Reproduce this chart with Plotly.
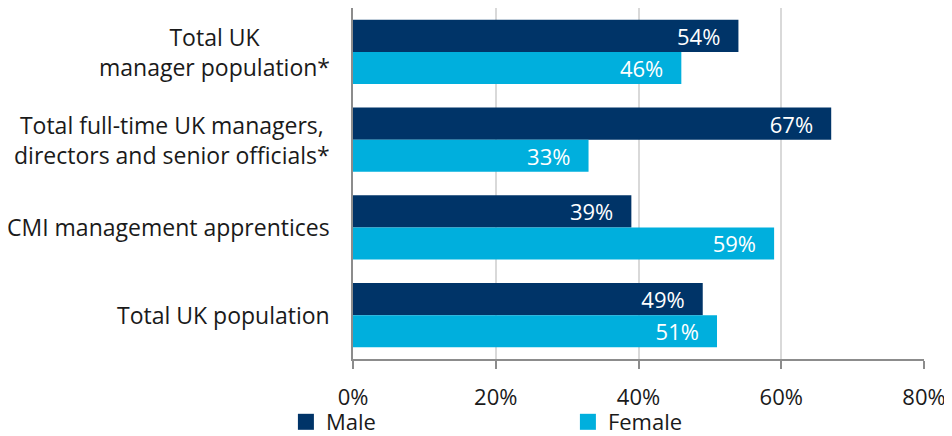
import plotly.graph_objects as go

categories = ["Total UK<br>manager population*",
              "Total full-time UK managers,<br>directors and senior officials*",
              "CMI management apprentices",
              "Total UK population"]
male = [54, 67, 39, 49]
female = [46, 33, 59, 51]
tick_vals = [0, 20, 40, 60, 80]
tick_text = ["0%", "20%", "40%", "60%", "80%"]

FONT = "Open Sans, Noto Sans, sans-serif"
MALE_C = "#003468"
FEMALE_C = "#00afdd"
PAD = "\u00a0\u00a0\u2009"

fig = go.Figure()
fig.add_trace(go.Bar(y=categories, x=male, name="Male", orientation="h",
                     marker=dict(color=MALE_C, line=dict(width=0)),
                     text=[f"{v}%{PAD}" for v in male], textposition="inside",
                     insidetextanchor="end", showlegend=False,
                     constraintext="none", cliponaxis=False,
                     textfont=dict(color="white", size=22, family=FONT)))
fig.add_trace(go.Bar(y=categories, x=female, name="Female", orientation="h",
                     marker=dict(color=FEMALE_C, line=dict(width=0)),
                     text=[f"{v}%{PAD}" for v in female], textposition="inside",
                     insidetextanchor="end", showlegend=False,
                     constraintext="none", cliponaxis=False,
                     textfont=dict(color="white", size=22, family=FONT)))
# legend entries with larger square swatches
for nm, col in (("Male", MALE_C), ("Female", FEMALE_C)):
    fig.add_trace(go.Scatter(x=[None], y=[None], mode="markers", name=nm,
                             marker=dict(symbol="square", size=16, color=col),
                             showlegend=True))

for c in categories:
    fig.add_annotation(x=-0.037, xref="paper", y=c, yref="y", text=c,
                       showarrow=False, xanchor="right", yanchor="middle",
                       align="center",
                       font=dict(size=23, color="#1a1a1a", family=FONT))

fig.update_layout(
    width=944, height=436,
    barmode="group", bargap=0.27, bargroupgap=0,
    margin=dict(l=345, r=28, t=0, b=85),
    plot_bgcolor="white", paper_bgcolor="white",
    font=dict(family=FONT, size=22, color="#1a1a1a"),
    xaxis=dict(range=[0, 80], tickvals=tick_vals, ticktext=tick_text,
               showgrid=True, gridcolor="#d9d9d9", gridwidth=1.5,
               showline=True, linecolor="#8c8c8c", linewidth=2,
               ticks="outside", ticklen=8, tickcolor="#8c8c8c", tickwidth=2,
               ticklabelstandoff=10,
               zeroline=False, fixedrange=True, automargin=False,
               tickfont=dict(size=22, family=FONT, color="#1a1a1a")),
    yaxis=dict(autorange="reversed", showticklabels=False,
               showline=True, linecolor="#8c8c8c", linewidth=2,
               ticks="", showgrid=False, fixedrange=True, automargin=False),
    legend=dict(orientation="h", x=-0.1175, xanchor="left",
                y=-0.1795, yanchor="middle",
                entrywidth=237, entrywidthmode="pixels",
                bgcolor="rgba(0,0,0,0)",
                font=dict(size=22, family=FONT, color="#1a1a1a"),
                itemsizing="trace", itemwidth=30, traceorder="normal"),
    showlegend=True,
)

fig.write_html("out.html")
